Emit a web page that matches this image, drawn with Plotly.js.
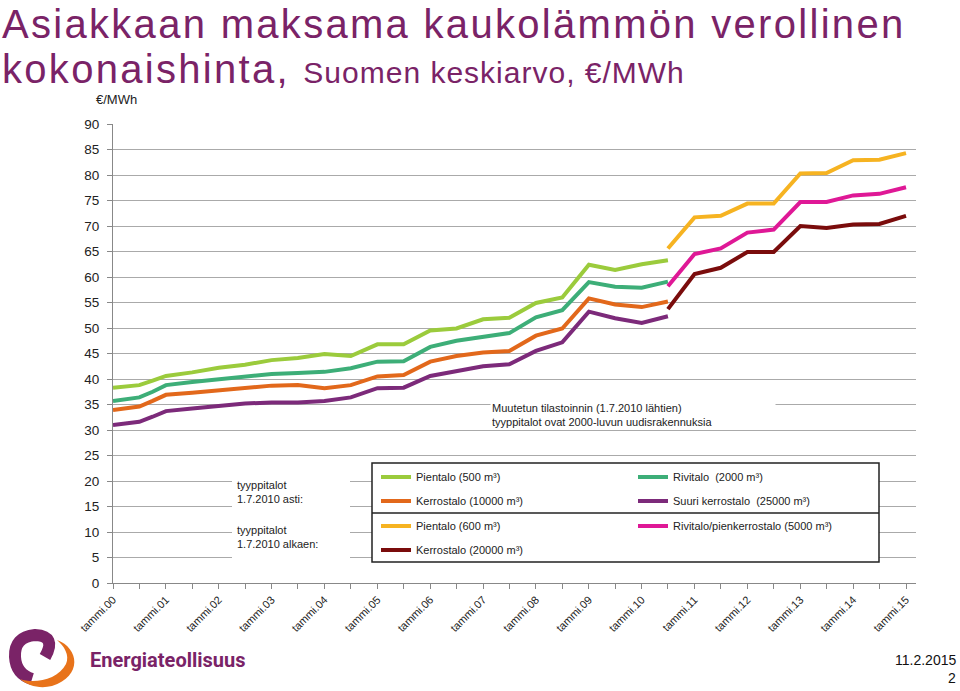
<!DOCTYPE html>
<html><head><meta charset="utf-8">
<script src="https://cdn.plot.ly/plotly-3.0.1.min.js"></script>
<style>html,body{margin:0;padding:0;background:#fff;}</style>
</head><body>
<div id="chart" style="width:960px;height:691px;"></div>
<script>
// ---- data ----
const oldDates = ['2000-01-01','2000-07-01','2000-10-01','2001-01-01','2001-07-01','2002-01-01','2002-07-01',
  '2003-01-01','2003-07-01','2004-01-01','2004-07-01','2005-01-01','2005-07-01','2006-01-01','2006-07-01',
  '2007-01-01','2007-07-01','2008-01-01','2008-07-01','2009-01-01','2009-07-01','2010-01-01','2010-07-01'];
const newDates = ['2010-07-01','2011-01-01','2011-07-01','2012-01-01','2012-07-01','2013-01-01','2013-07-01',
  '2014-01-01','2014-07-01','2015-01-01'];

const pientalo500 = [38.3,38.8,39.7,40.6,41.3,42.2,42.8,43.7,44.1,44.9,44.5,46.8,46.8,49.5,49.9,51.7,52.0,54.9,56.0,62.4,61.4,62.5,63.3];
const rivitalo2000 = [35.7,36.4,37.5,38.8,39.4,40.0,40.5,41.0,41.2,41.4,42.1,43.4,43.5,46.3,47.5,48.2,49.0,52.1,53.5,59.0,58.1,57.9,59.1];
const kerrostalo10000 = [33.9,34.6,35.7,36.9,37.3,37.8,38.2,38.7,38.8,38.2,38.8,40.5,40.8,43.4,44.5,45.2,45.5,48.5,49.9,55.8,54.6,54.1,55.2];
const suuri25000 = [31.0,31.6,32.6,33.7,34.2,34.7,35.2,35.4,35.4,35.7,36.4,38.2,38.3,40.6,41.6,42.5,42.9,45.5,47.2,53.2,51.9,51.0,52.3];

const pientalo600 = [65.6,71.7,72.0,74.4,74.4,80.3,80.4,82.9,83.0,84.3];
const rivitalo5000 = [58.2,64.5,65.6,68.7,69.3,74.7,74.7,76.0,76.3,77.6];
const kerrostalo20000 = [53.7,60.6,61.8,64.9,64.9,70.0,69.6,70.3,70.4,72.0];

const tickDates = ['2000-01-01','2001-01-01','2002-01-01','2003-01-01','2004-01-01','2005-01-01','2006-01-01','2007-01-01',
  '2008-01-01','2009-01-01','2010-01-01','2011-01-01','2012-01-01','2013-01-01','2014-01-01','2015-01-01'];
const tickLabels = ['tammi.00','tammi.01','tammi.02','tammi.03','tammi.04','tammi.05','tammi.06','tammi.07',
  'tammi.08','tammi.09','tammi.10','tammi.11','tammi.12','tammi.13','tammi.14','tammi.15'];

const seriesNames = ['Pientalo (500 m³)','Rivitalo\u00a0 (2000 m³)','Kerrostalo (10000 m³)','Suuri kerrostalo\u00a0 (25000 m³)',
  'Pientalo (600 m³)','Rivitalo/pienkerrostalo (5000 m³)','Kerrostalo (20000 m³)'];

// ---- geometry helpers (plot area in pixels) ----
const L = 113, R = 916, T = 124, B = 583;
const px = x => (x - L) / (R - L);
const py = y => (B - y) / (B - T);
function pathPx(cmds){
  return cmds.map(c => c[0] + ' ' + c.slice(1).map((v,i)=> (i%2===0? px(v): py(v)).toFixed(5)).join(',')).join(' ') ;
}

const font = 'Liberation Sans, Arial, sans-serif';
const purple = '#7A2367';

const traces = [
  {x: oldDates, y: pientalo500, name: seriesNames[0], color:'#9BCB3C', legend:'legend'},
  {x: oldDates, y: rivitalo2000, name: seriesNames[1], color:'#3DAE78', legend:'legend'},
  {x: oldDates, y: kerrostalo10000, name: seriesNames[2], color:'#E2681B', legend:'legend2'},
  {x: oldDates, y: suuri25000, name: seriesNames[3], color:'#7C2A7A', legend:'legend2'},
  {x: newDates, y: pientalo600, name: seriesNames[4], color:'#F6B321', legend:'legend3'},
  {x: newDates, y: rivitalo5000, name: seriesNames[5], color:'#DF1896', legend:'legend3'},
  {x: newDates, y: kerrostalo20000, name: seriesNames[6], color:'#7A0C0C', legend:'legend4'}
].map(t => ({x:t.x, y:t.y, name:t.name, type:'scatter', mode:'lines', legend:t.legend,
   line:{color:t.color, width:4}, hoverinfo:'skip'}));

const legBase = {orientation:'h', xanchor:'left', yanchor:'middle', x: px(376), bgcolor:'rgba(0,0,0,0)',
  borderwidth:0, entrywidth:212, font:{size:11, color:'#222', family:font}, itemwidth:30, traceorder:'normal'};

const layout = {
  width:960, height:691,
  margin:{l:L, r:960-R, t:T, b:691-B},
  paper_bgcolor:'#fff', plot_bgcolor:'#fff',
  font:{family:font, color:'#222'},
  showlegend:true,
  xaxis:{type:'date', range:['2000-01-01','2015-03-11'], tickmode:'array', tickvals:tickDates, ticktext:tickLabels,
    tickangle:-45, ticks:'outside', ticklen:5, tickcolor:'#888', showgrid:false, showline:true, linecolor:'#888',
    linewidth:1, zeroline:false, tickfont:{size:11, color:'#222', family:font},
    minor:{tickmode:'linear', tick0:'2000-07-01', dtick:'M12', ticks:'outside', ticklen:5, tickcolor:'#888', showgrid:false}},
  yaxis:{range:[0,90], tickmode:'linear', tick0:0, dtick:5, ticks:'outside', ticklen:5, tickcolor:'#888',
    showline:true, linecolor:'#888', gridcolor:'#AAAAAA', gridwidth:1, zeroline:false,
    tickfont:{size:13.5, color:'#222', family:font}, ticklabelstandoff:5},
  legend: Object.assign({}, legBase, {y: py(477)}),
  legend2: Object.assign({}, legBase, {y: py(501)}),
  legend3: Object.assign({}, legBase, {y: py(526)}),
  legend4: Object.assign({}, legBase, {y: py(550)}),
  shapes:[
    {type:'rect', xref:'paper', yref:'paper', x0:px(232), x1:px(350), y0:py(470), y1:py(566), fillcolor:'#fff', line:{width:0}, layer:'above'},
    {type:'rect', xref:'paper', yref:'paper', x0:px(372), x1:px(879), y0:py(463), y1:py(562), fillcolor:'#fff', line:{color:'#222', width:1.5}, layer:'above'},
    {type:'line', xref:'paper', yref:'paper', x0:px(372), x1:px(879), y0:py(513), y1:py(513), line:{color:'#222', width:1.5}, layer:'above'},
    {type:'path', xref:'paper', yref:'paper', layer:'above', line:{color:purple, width:12}, fillcolor:'rgba(0,0,0,0)',
      path: pathPx([['M',45,657],['Q',57,636,35,635],['Q',14,637,15,657],['Q',16,674,32,679]])},
    {type:'path', xref:'paper', yref:'paper', layer:'above', line:{width:0}, fillcolor:'#E8731A',
      path: pathPx([['M',57,640],['C',79,648,83,676,52,686],['C',40,689,28,686,20,679],['C',34,684,58,680,66,664],['C',70,655,64,646,57,640]]) + ' Z'}
  ],
  annotations:[
    {xref:'paper', yref:'paper', x:px(0), y:py(24), xanchor:'left', yanchor:'middle', showarrow:false,
     text:'<span style="letter-spacing:2.3px">Asiakkaan maksama kaukolämmön verollinen</span>', font:{size:40, color:purple, family:font}},
    {xref:'paper', yref:'paper', x:px(0), y:py(69), xanchor:'left', yanchor:'middle', showarrow:false,
     text:'<span style="letter-spacing:2.3px">kokonaishinta, </span><span style="font-size:30px;letter-spacing:1px">Suomen keskiarvo, €/MWh</span>', font:{size:40, color:purple, family:font}},
    {xref:'paper', yref:'paper', x:px(94), y:py(100), xanchor:'left', yanchor:'middle', showarrow:false,
     text:'€/MWh', font:{size:13, color:'#222', family:font}},
    {xref:'paper', yref:'paper', x:px(490), y:py(415), xanchor:'left', yanchor:'middle', showarrow:false,
     width:282, align:'left', bgcolor:'#fff',
     text:'Muutetun tilastoinnin (1.7.2010 lähtien)<br>tyyppitalot ovat 2000-luvun uudisrakennuksia', font:{size:11, color:'#222', family:font}},
    {xref:'paper', yref:'paper', x:px(235), y:py(492), xanchor:'left', yanchor:'middle', showarrow:false, align:'left',
     text:'tyyppitalot<br>1.7.2010 asti:', font:{size:11, color:'#222', family:font}},
    {xref:'paper', yref:'paper', x:px(235), y:py(537), xanchor:'left', yanchor:'middle', showarrow:false, align:'left',
     text:'tyyppitalot<br>1.7.2010 alkaen:', font:{size:11, color:'#222', family:font}},
    {xref:'paper', yref:'paper', x:px(88), y:py(660), xanchor:'left', yanchor:'middle', showarrow:false,
     text:'<b>Energiateollisuus</b>', font:{size:20, color:purple, family:'Roboto, Liberation Sans, sans-serif'}},
    {xref:'paper', yref:'paper', x:px(958), y:py(660), xanchor:'right', yanchor:'middle', showarrow:false,
     text:'11.2.2015', font:{size:14, color:'#111', family:font}},
    {xref:'paper', yref:'paper', x:px(958), y:py(678), xanchor:'right', yanchor:'middle', showarrow:false,
     text:'2', font:{size:14, color:'#111', family:font}}
  ]
};

Plotly.newPlot('chart', traces, layout, {displayModeBar:false, responsive:false});
</script>
</body></html>
